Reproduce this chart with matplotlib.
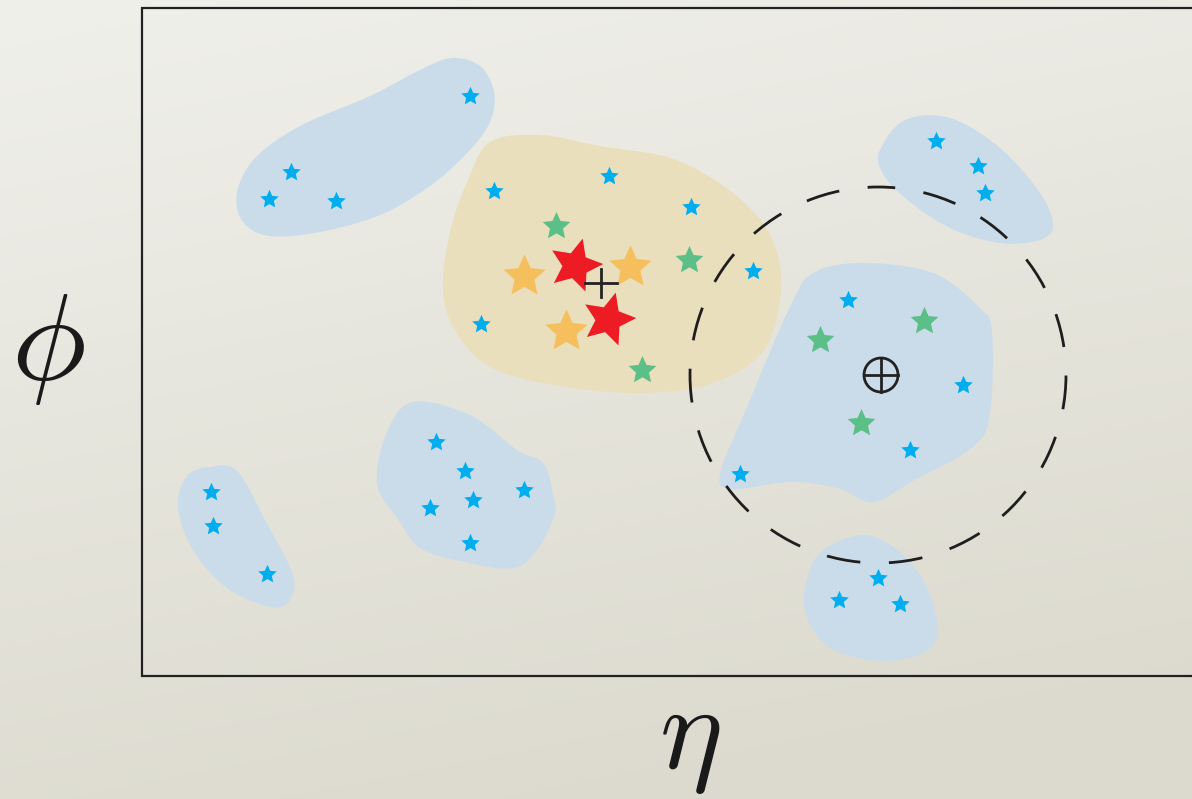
import numpy as np
import matplotlib
matplotlib.use("Agg")
import matplotlib.pyplot as plt
from matplotlib.path import Path
from matplotlib.patches import Polygon, Circle

plt.rcParams['mathtext.fontset'] = 'cm'

# ==============================
# DATOS (coordenadas en pixeles de la imagen)
# ==============================
# contornos de las regiones (puntos de control)
blob_topleft = [(237, 193), (255, 158), (300, 126), (370, 96), (420, 70), (452, 58),
                (480, 66), (494, 92), (490, 122), (468, 152), (430, 186), (380, 215),
                (320, 232), (270, 236), (243, 222)]
blob_jet = [(490, 142), (540, 135), (600, 146), (670, 158), (722, 185), (762, 222),
            (780, 265), (778, 312), (760, 355), (710, 384), (640, 393), (560, 386),
            (492, 368), (456, 332), (443, 290), (450, 232), (468, 180)]
blob_topright = [(880, 150), (905, 120), (950, 118), (1000, 148), (1040, 193),
                 (1053, 225), (1040, 240), (1000, 243), (950, 228), (905, 198), (882, 172)]
blob_center = [(813, 273), (863, 263), (933, 273), (980, 308), (992, 332), (990, 413),
               (973, 447), (913, 481), (873, 502), (837, 488), (790, 482), (733, 489),
               (720, 474), (747, 407), (790, 307)]
blob_bottom = [(820, 553), (860, 535), (892, 546), (920, 575), (935, 610), (935, 642),
               (910, 658), (870, 660), (830, 648), (808, 620), (805, 588)]
blob_botleft = [(187, 476), (210, 467), (237, 471), (265, 520), (293, 575), (289, 601),
                (270, 607), (227, 588), (193, 550), (178, 507)]
blob_midleft = [(387, 432), (413, 402), (470, 415), (517, 450), (543, 463), (552, 490),
                (553, 520), (520, 566), (460, 561), (420, 548), (400, 522), (377, 484)]

blue_regions = [blob_topleft, blob_topright, blob_center, blob_bottom, blob_botleft, blob_midleft]

# particulas
blue_x = [470, 291, 269, 336, 494, 609, 691, 753, 481, 936, 978, 985, 848, 963, 910, 740,
          878, 839, 900, 211, 213, 267, 436, 465, 473, 430, 524, 470]
blue_y = [96, 172, 199, 201, 191, 176, 207, 271, 324, 141, 166, 193, 300, 385, 450, 474,
          578, 600, 604, 492, 526, 574, 442, 471, 500, 508, 490, 543]
green_x = [556, 689, 642, 820, 924, 861]
green_y = [226, 260, 370, 340, 321, 423]
orange_x = [524, 630, 566]
orange_y = [276, 267, 331]
red_x = [575, 608]
red_y = [265, 319]

jet_axis = (601, 283)
cone_center = (878, 375)
cone_radius = 188

# ==============================
# FUNCIONES
# ==============================
def smooth_closed(pts, n=24):
    P = np.asarray(pts, float)
    N = len(P)
    t = np.linspace(0, 1, n, endpoint=False)[:, None]
    out = []
    for i in range(N):
        p0, p1, p2, p3 = P[i - 1], P[i], P[(i + 1) % N], P[(i + 2) % N]
        out.append(0.5 * (2 * p1 + (-p0 + p2) * t + (2 * p0 - 5 * p1 + 4 * p2 - p3) * t ** 2
                          + (-p0 + 3 * p1 - 3 * p2 + p3) * t ** 3))
    return np.vstack(out)


def star_path(inner=0.47, rot=0.0):
    ang = np.pi / 2 + np.arange(10) * np.pi / 5 + np.radians(rot)
    r = np.where(np.arange(10) % 2 == 0, 1.0, inner)
    v = np.column_stack([r * np.cos(ang), r * np.sin(ang)])
    return Path(np.vstack([v, v[:1]]), closed=True)


# ==============================
# FIGURA
# ==============================
W, H = 1192, 799
fig = plt.figure(figsize=(W / 100, H / 100), dpi=100)
ax = fig.add_axes([0, 0, 1, 1])
ax.set_xlim(0, W)
ax.set_ylim(H, 0)
ax.axis("off")

# fondo degradado
yy, xx = np.mgrid[0:1:200j, 0:1:300j]
g = np.clip(0.85 * yy + 0.25 * xx, 0, 1)[..., None]
top = np.array([240, 240, 235]) / 255
bot = np.array([220, 218, 206]) / 255
ax.imshow(top + (bot - top) * g, extent=(0, W, H, 0), aspect="auto", zorder=0)

# regiones
for reg in blue_regions:
    ax.add_patch(Polygon(smooth_closed(reg), closed=True, fc="#cadcea", ec="none", zorder=1))
ax.add_patch(Polygon(smooth_closed(blob_jet), closed=True, fc="#eadfbd", ec="none", zorder=1))

# marco
ax.plot([W + 5, 142, 142, W + 5], [8, 8, 676, 676], color="#222222", lw=1.6,
        solid_joinstyle="miter", zorder=2)

# cono punteado
ax.add_patch(Circle(cone_center, cone_radius, fill=False, ec="#1e1e1e", lw=2.0,
                    ls=(6, (12.2, 10.3)), zorder=3))

# particulas
ax.scatter(blue_x, blue_y, s=14 ** 2, marker=star_path(), c="#00aeef", lw=0, zorder=4)
ax.scatter(green_x, green_y, s=21 ** 2, marker=star_path(), c="#5cbf88", lw=0, zorder=4)
ax.scatter(orange_x, orange_y, s=32 ** 2, marker=star_path(), c="#f6bf5e", lw=0, zorder=4)
ax.scatter(red_x, red_y, s=40 ** 2, marker=star_path(rot=-15), c="#ed1c24", lw=0, zorder=5)

# ejes de jet
ax.plot([jet_axis[0] - 16, jet_axis[0] + 16], [jet_axis[1]] * 2, color="#222222", lw=2, zorder=6)
ax.plot([jet_axis[0]] * 2, [jet_axis[1] - 14, jet_axis[1] + 14], color="#222222", lw=2, zorder=6)
cx, cy = 881, 375
ax.add_patch(Circle((cx, cy), 17, fill=False, ec="#222222", lw=2, zorder=6))
ax.plot([cx - 17, cx + 17], [cy, cy], color="#222222", lw=2, zorder=6)
ax.plot([cx, cx], [cy - 17, cy + 17], color="#222222", lw=2, zorder=6)

# etiquetas
ax.text(48, 380, r"$\phi$", fontsize=90, ha="center", va="baseline", color="#1a1a1a")
ax.text(690, 768, r"$\eta$", fontsize=86, ha="center", va="baseline", color="#1a1a1a")

fig.savefig("out.png", dpi=100)
